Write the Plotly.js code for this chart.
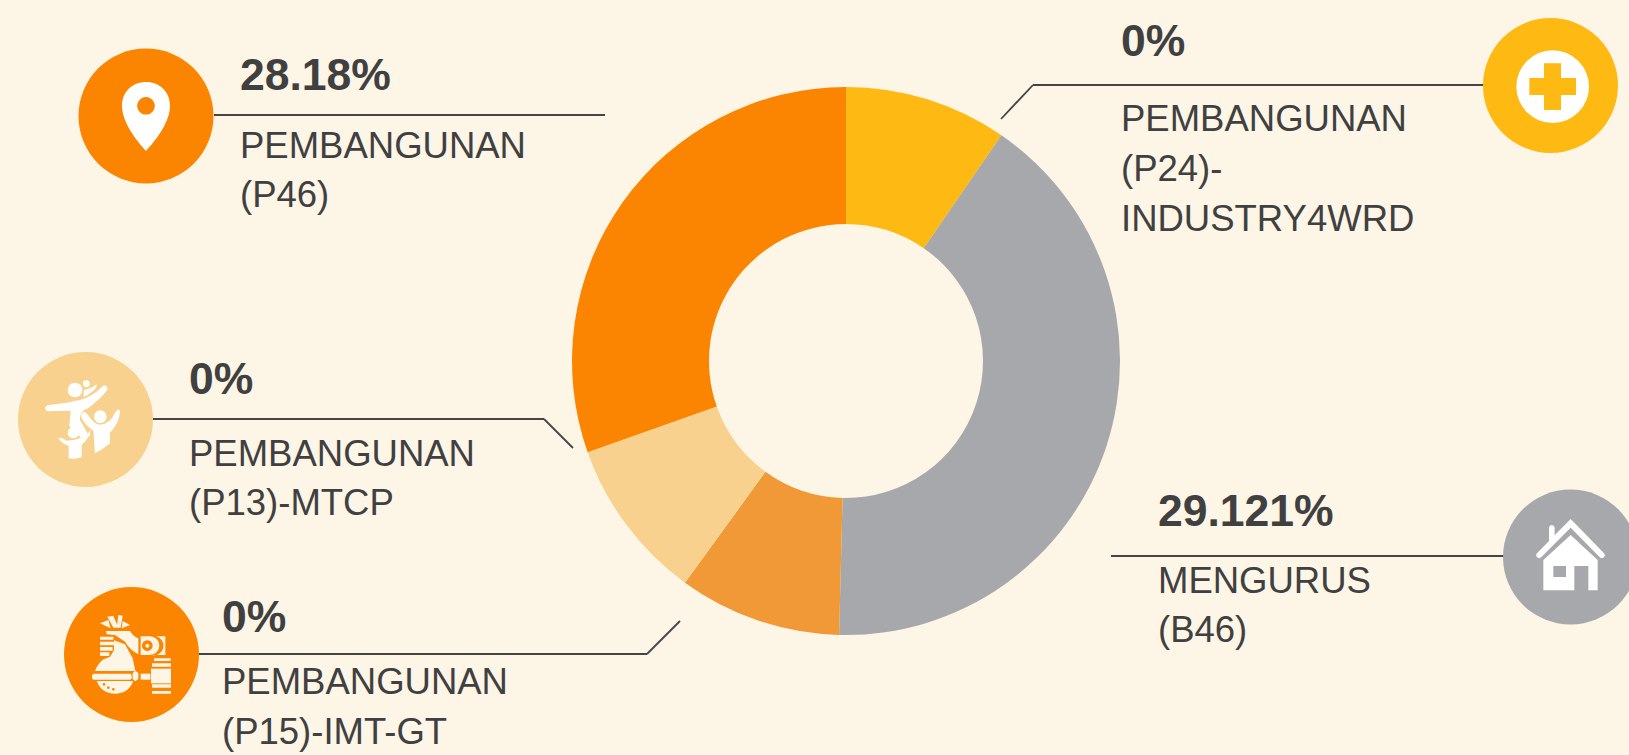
<!DOCTYPE html>
<html><head><meta charset="utf-8"><script src="https://cdn.plot.ly/plotly-3.0.1.min.js"></script>
<style>html,body{margin:0;padding:0;background:#fdf5e6;overflow:hidden}</style></head><body><div id="c" style="width:1629px;height:755px"></div>
<script>
const categories=['PEMBANGUNAN (P24)-INDUSTRY4WRD','MENGURUS (B46)','PEMBANGUNAN (P15)-IMT-GT','PEMBANGUNAN (P13)-MTCP','PEMBANGUNAN (P46)'];
const sliceValues=[9.6,40.8,9.6,9.6,30.4];
const sliceColors=['#feb913','#a6a8ab','#f09936','#f8d18e','#fb8500'];
const W=1629,H=755;
const px=x=>x/W, py=y=>1-y/H;
const BG='#fdf5e6';
const labels=[
 {pct:'28.18%',lines:['PEMBANGUNAN','(P46)'],x:238,y:75,sub:70,color:'#fb8500',cx:146,cy:116},
 {pct:'0%',lines:['PEMBANGUNAN','(P24)-','INDUSTRY4WRD'],x:1119,y:40,sub:79,color:'#feb913',cx:1550.5,cy:85.5},
 {pct:'0%',lines:['PEMBANGUNAN','(P13)-MTCP'],x:187,y:378,sub:75,color:'#f8d18e',cx:85.5,cy:419.5},
 {pct:'0%',lines:['PEMBANGUNAN','(P15)-IMT-GT'],x:220,y:616,sub:65.5,color:'#fb8500',cx:131.5,cy:654.5},
 {pct:'29.121%',lines:['MENGURUS','(B46)'],x:1156,y:510,sub:70,color:'#a6a8ab',cx:1570.5,cy:557}
];
const connectors=[
 [[214,115],[605,115]],
 [[1001,119],[1033,85],[1490,85]],
 [[153,419],[544,419],[573,448]],
 [[198,654],[647,654],[680,621]],
 [[1111,556],[1510,556]]
];
const pinIcon=`<svg xmlns="http://www.w3.org/2000/svg" viewBox="110 70 72 90"><path fill-rule="evenodd" fill="#fff" d="M146,82 C132,82 122,92 122,106 C122,122 136,140 146,151 C156,140 170,122 170,106 C170,92 160,82 146,82Z M146,97 a8.8,8.8 0 1,1 -0.01,0Z"/></svg>`;
const crossIcon=`<svg xmlns="http://www.w3.org/2000/svg" viewBox="0 0 537 480"><circle cx="308" cy="260" r="109" fill="#fff"/><path fill="#feb913" d="M282,190H333V234H378V285H333V330H282V285H238V234H282Z"/></svg>`;
const familyIcon=`<svg xmlns="http://www.w3.org/2000/svg" viewBox="0 0 900 450"><g fill="#fff"><circle cx="225" cy="150" r="22"/><circle cx="259" cy="131" r="10"/><path d="M250,172 L252,150 Q270,148 290,133 Q292,142 280,152 Q265,165 250,172Z"/><path d="M142,196 Q190,192 240,180 Q280,168 306,140 Q322,130 322,150 Q300,178 265,204 Q238,212 240,240 L268,290 L272,270 L250,300 L208,258 L212,212 L142,214 Q128,205 142,196Z"/><circle cx="301" cy="230" r="19"/><path d="M285,340 L280,272 Q250,252 243,228 Q248,208 262,222 Q280,252 300,254 Q330,252 345,218 Q358,200 360,215 Q358,248 330,278 L330,310 Q310,328 285,340Z"/><circle cx="220" cy="278" r="17"/><path d="M175,295 Q182,290 200,302 Q225,302 245,292 Q262,278 270,283 Q262,300 245,315 L245,352 Q225,358 206,355 L206,318 Q185,310 175,295Z"/></g></svg>`;
const moneyIcon=`<svg xmlns="http://www.w3.org/2000/svg" viewBox="0 0 900 480"><g fill="${BG}"><path d="M150,145 L175,135 L182,160Z M172,125 L190,122 L205,158 L190,158Z M205,120 L218,122 L212,158 L200,158Z M218,138 L240,150 L215,160Z"/><path d="M168,168 L240,168 Q250,185 265,190 L265,238 Q240,225 225,200 L195,180 L170,178Z"/><path fill-rule="evenodd" d="M272,184 H300 A28,28 0 0 1 300,240 H272Z M292,196 a16,16 0 1,0 .01,0Z M292,206 a6,6 0 1,1 -.01,0Z"/><path d="M318,184 H346 V240 H306 A28,28 0 0 0 318,184Z"/><path d="M150,185H190V194H150ZM150,200H193V211H150ZM150,216H188V227H150ZM150,232H178V243H150Z"/><path d="M192,196 L225,208 L248,250 L256,288 H135 Q142,268 158,254 L180,245 L192,226Z"/><path d="M140,318 H250 Q235,356 195,356 Q155,356 140,318Z"/><rect x="126" y="296" width="119" height="18" rx="6"/><path d="M248,294 L256,287 L265,294 V312 L256,319 L248,312Z"/><rect x="272" y="296" width="29" height="18"/><rect x="303" y="281" width="60" height="44"/><path d="M312,250H362V258H312ZM306,265H363V275H306ZM306,328H363V338H306ZM306,348H363V356H306Z"/></g><g fill="#fb8500"><circle cx="162" cy="328" r="4"/><circle cx="175" cy="338" r="4"/><circle cx="190" cy="343" r="4"/></g></svg>`;
const houseIcon=`<svg xmlns="http://www.w3.org/2000/svg" viewBox="0 0 447 450"><g fill="#fff"><path d="M190,240 L272,165 L353,240 V331 H325 V258 H283 V331 H190Z"/><path d="M207,190 V142 Q215,128 224,142 V172Z"/></g><path d="M178,225 L272,130 L365,225" fill="none" stroke="#fff" stroke-width="18" stroke-linecap="round" stroke-linejoin="miter"/><rect x="220" y="258" width="38" height="33" fill="#a6a8ab"/></svg>`;
const icons=[
 {svg:pinIcon,x:110,y:70,w:72,h:90},
 {svg:crossIcon,x:1450,y:0,w:179,h:160},
 {svg:familyIcon,x:0,y:340,w:300,h:150},
 {svg:moneyIcon,x:50,y:575,w:300,h:160},
 {svg:houseIcon,x:1480,y:480,w:149,h:150}
];
const annotations=[],shapes=[];
const LC='#444444';
connectors.forEach(pts=>{for(let i=0;i<pts.length-1;i++)shapes.push({type:'line',layer:'below',xref:'paper',yref:'paper',x0:px(pts[i][0]),y0:py(pts[i][1]),x1:px(pts[i+1][0]),y1:py(pts[i+1][1]),line:{color:LC,width:1.8}})});
labels.forEach(l=>{
 shapes.push({type:'circle',xref:'paper',yref:'paper',x0:px(l.cx-67.5),x1:px(l.cx+67.5),y0:py(l.cy+67.5),y1:py(l.cy-67.5),fillcolor:l.color,line:{width:0},layer:'below'});
 annotations.push({xref:'paper',yref:'paper',x:px(l.x),y:py(l.y),xanchor:'left',yanchor:'middle',showarrow:false,text:'<b>'+l.pct+'</b>',font:{family:'Liberation Sans',size:44.5,color:'#404040'}});
 l.lines.forEach((t,i)=>annotations.push({xref:'paper',yref:'paper',x:px(l.x),y:py(l.y+l.sub+i*49.5),xanchor:'left',yanchor:'middle',showarrow:false,text:t,font:{family:'Liberation Sans',size:36.5,color:'#404040'}}));
});
const images=icons.map(c=>({source:'data:image/svg+xml;charset=utf-8,'+encodeURIComponent(c.svg),xref:'paper',yref:'paper',x:px(c.x),y:py(c.y),sizex:c.w/W,sizey:c.h/H,xanchor:'left',yanchor:'top',sizing:'stretch',layer:'above'}));
Plotly.newPlot('c',[{type:'pie',labels:categories,values:sliceValues,sort:false,direction:'clockwise',rotation:0,hole:0.5,marker:{colors:sliceColors,line:{width:0}},textinfo:'none',hoverinfo:'label+percent',domain:{x:[px(572),px(1120)],y:[py(635),py(87)]}}],
{width:W,height:H,margin:{l:0,r:0,t:0,b:0},paper_bgcolor:BG,showlegend:false,annotations,shapes,images},{staticPlot:true,displayModeBar:false});
</script></body></html>
